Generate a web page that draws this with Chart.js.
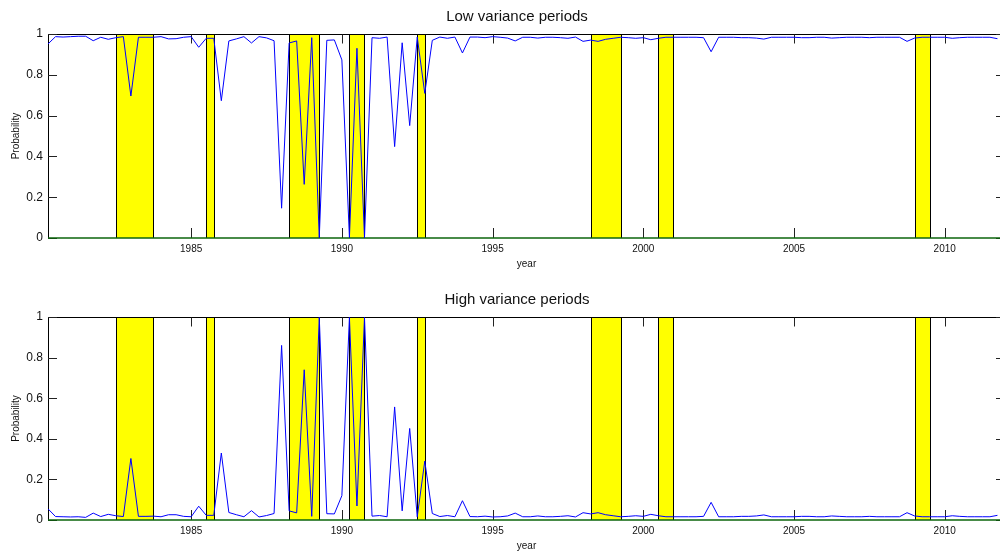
<!DOCTYPE html>
<html>
<head>
<meta charset="utf-8">
<script src="https://cdn.jsdelivr.net/npm/chart.js@4/dist/chart.umd.min.js"></script>
<style>
  html, body { margin: 0; padding: 0; background: #fff; }
  #wrap { position: relative; width: 1000px; height: 557px; overflow: hidden; }
  .box { position: absolute; left: 0; width: 1034px; }
</style>
</head>
<body>
<div id="wrap">
  <div class="box" style="top:0;height:280px"><canvas id="low-chart"></canvas></div>
  <div class="box" style="top:283px;height:274px"><canvas id="high-chart"></canvas></div>
</div>
<script>
// quarterly observations, 1980Q2 .. 2011Q4
const quarters = [
  1980.25, 1980.5, 1980.75,
  1981, 1981.25, 1981.5, 1981.75, 1982, 1982.25, 1982.5, 1982.75,
  1983, 1983.25, 1983.5, 1983.75, 1984, 1984.25, 1984.5, 1984.75,
  1985, 1985.25, 1985.5, 1985.75, 1986, 1986.25, 1986.5, 1986.75,
  1987, 1987.25, 1987.5, 1987.75, 1988, 1988.25, 1988.5, 1988.75,
  1989, 1989.25, 1989.5, 1989.75, 1990, 1990.25, 1990.5, 1990.75,
  1991, 1991.25, 1991.5, 1991.75, 1992, 1992.25, 1992.5, 1992.75,
  1993, 1993.25, 1993.5, 1993.75, 1994, 1994.25, 1994.5, 1994.75,
  1995, 1995.25, 1995.5, 1995.75, 1996, 1996.25, 1996.5, 1996.75,
  1997, 1997.25, 1997.5, 1997.75, 1998, 1998.25, 1998.5, 1998.75,
  1999, 1999.25, 1999.5, 1999.75, 2000, 2000.25, 2000.5, 2000.75,
  2001, 2001.25, 2001.5, 2001.75, 2002, 2002.25, 2002.5, 2002.75,
  2003, 2003.25, 2003.5, 2003.75, 2004, 2004.25, 2004.5, 2004.75,
  2005, 2005.25, 2005.5, 2005.75, 2006, 2006.25, 2006.5, 2006.75,
  2007, 2007.25, 2007.5, 2007.75, 2008, 2008.25, 2008.5, 2008.75,
  2009, 2009.25, 2009.5, 2009.75, 2010, 2010.25, 2010.5, 2010.75,
  2011, 2011.25, 2011.5, 2011.75
];

const lowVar = [
  0.951, 0.987, 0.985,
  0.987, 0.989, 0.989, 0.967, 0.984, 0.974, 0.982, 0.987,
  0.696, 0.984, 0.984, 0.984, 0.987, 0.976, 0.977, 0.984,
  0.987, 0.935, 0.979, 0.979, 0.673, 0.966, 0.976, 0.987,
  0.956, 0.987, 0.981, 0.967, 0.146, 0.956, 0.966, 0.263,
  0.982, 0.002, 0.969, 0.971, 0.873, 0.003, 0.930, 0.002,
  0.982, 0.979, 0.985, 0.448, 0.957, 0.551, 0.985, 0.709,
  0.969, 0.985, 0.979, 0.985, 0.907, 0.985, 0.985, 0.982,
  0.987, 0.984, 0.980, 0.966, 0.984, 0.984, 0.980, 0.984,
  0.984, 0.982, 0.979, 0.985, 0.964, 0.970, 0.964, 0.974,
  0.979, 0.984, 0.982, 0.979, 0.982, 0.972, 0.979, 0.984,
  0.984, 0.984, 0.984, 0.984, 0.982, 0.913, 0.984, 0.984,
  0.984, 0.982, 0.982, 0.980, 0.975, 0.984, 0.984, 0.984,
  0.984, 0.982, 0.982, 0.984, 0.984, 0.980, 0.982, 0.984,
  0.984, 0.984, 0.982, 0.984, 0.984, 0.984, 0.984, 0.964,
  0.980, 0.984, 0.984, 0.984, 0.984, 0.979, 0.982, 0.984,
  0.984, 0.984, 0.984, 0.977
];

const highVar = [
  0.055, 0.017, 0.016,
  0.015, 0.016, 0.013, 0.034, 0.017, 0.028, 0.021, 0.017,
  0.303, 0.018, 0.018, 0.019, 0.016, 0.026, 0.026, 0.018,
  0.016, 0.068, 0.023, 0.023, 0.330, 0.037, 0.026, 0.016,
  0.046, 0.015, 0.022, 0.032, 0.860, 0.045, 0.035, 0.740,
  0.018, 0.998, 0.031, 0.030, 0.120, 0.998, 0.069, 0.998,
  0.019, 0.022, 0.016, 0.557, 0.045, 0.451, 0.016, 0.290,
  0.032, 0.017, 0.022, 0.016, 0.095, 0.017, 0.016, 0.019,
  0.015, 0.016, 0.020, 0.034, 0.016, 0.016, 0.020, 0.016,
  0.016, 0.018, 0.021, 0.015, 0.036, 0.030, 0.036, 0.026,
  0.021, 0.016, 0.018, 0.021, 0.018, 0.028, 0.021, 0.016,
  0.016, 0.016, 0.016, 0.016, 0.018, 0.087, 0.016, 0.016,
  0.016, 0.018, 0.018, 0.020, 0.025, 0.016, 0.016, 0.016,
  0.016, 0.018, 0.018, 0.016, 0.016, 0.020, 0.018, 0.016,
  0.016, 0.016, 0.018, 0.016, 0.016, 0.016, 0.016, 0.036,
  0.020, 0.016, 0.016, 0.016, 0.016, 0.021, 0.018, 0.016,
  0.016, 0.016, 0.016, 0.023
];

// shaded periods (start, end)
const shadeStart = [1982.5, 1985.5, 1988.25, 1990.25, 1992.5, 1998.25, 2000.5, 2009.0];
const shadeEnd   = [1983.75, 1985.75, 1989.25, 1990.75, 1992.75, 1999.25, 2001.0, 2009.5];

const xTicks = [1985, 1990, 1995, 2000, 2005, 2010];
const yTicks = [0, 0.2, 0.4, 0.6, 0.8, 1];

const FONT = "'Liberation Sans', Arial, Helvetica, sans-serif";
const snap = (v) => Math.round(v) + 0.5;

const shadePlugin = {
  id: 'shade',
  beforeDatasetsDraw(chart) {
    const { ctx, chartArea: a, scales: { x, y } } = chart;
    const top = snap(y.getPixelForValue(1));
    const bottom = y.getPixelForValue(0);
    ctx.save();
    ctx.lineWidth = 1;
    for (let i = 0; i < shadeStart.length; i++) {
      const x0 = snap(x.getPixelForValue(shadeStart[i]));
      const x1 = snap(x.getPixelForValue(shadeEnd[i]));
      ctx.fillStyle = '#ffff00';
      ctx.fillRect(x0, top, x1 - x0, bottom - top);
      ctx.strokeStyle = '#000';
      ctx.beginPath();
      ctx.moveTo(x0, top); ctx.lineTo(x0, bottom);
      ctx.moveTo(x1, top); ctx.lineTo(x1, bottom);
      ctx.stroke();
    }
    // axes box
    ctx.strokeStyle = '#000';
    ctx.beginPath();
    ctx.moveTo(snap(a.left), bottom); ctx.lineTo(snap(a.left), top);
    ctx.lineTo(snap(a.right), top); ctx.lineTo(snap(a.right), bottom);
    ctx.stroke();
    // inward ticks
    ctx.strokeStyle = '#222';
    ctx.beginPath();
    yTicks.forEach(v => {
      const py = snap(y.getPixelForValue(v));
      ctx.moveTo(a.left, py); ctx.lineTo(a.left + 9, py);
      ctx.moveTo(a.right, py); ctx.lineTo(a.right - 9, py);
    });
    xTicks.forEach(v => {
      const px = snap(x.getPixelForValue(v));
      ctx.moveTo(px, bottom); ctx.lineTo(px, bottom - 10);
      ctx.moveTo(px, top); ctx.lineTo(px, top + 9);
    });
    ctx.stroke();
    // zero line
    ctx.strokeStyle = '#0b640b';
    ctx.lineWidth = 1.6;
    ctx.beginPath();
    ctx.moveTo(a.left, bottom); ctx.lineTo(a.right, bottom);
    ctx.stroke();
    ctx.restore();
  }
};

const makeChart = (id, title, values, axisHeight, yearPad) => {
  new Chart(id, {
    type: 'line',
    data: {
      datasets: [{
        data: quarters.map((q, i) => ({ x: q, y: values[i] })),
        borderColor: '#0000ff',
        borderWidth: 1,
        pointRadius: 0,
        tension: 0,
        fill: false
      }]
    },
    plugins: [shadePlugin],
    options: {
      animation: false,
      responsive: true,
      maintainAspectRatio: false,
      layout: { padding: 0 },
      plugins: {
        legend: { display: false },
        tooltip: { enabled: false },
        title: {
          display: true,
          text: title,
          color: '#111',
          font: { family: FONT, size: 15, weight: 'normal' },
          padding: { top: 8, bottom: 8 }
        }
      },
      scales: {
        x: {
          type: 'linear',
          min: 1980.25,
          max: 2012,
          afterBuildTicks: (s) => { s.ticks = xTicks.map(v => ({ value: v })); },
          afterFit: (s) => { s.height = axisHeight; },
          grid: { display: false, drawTicks: false },
          border: { display: false },
          ticks: {
            padding: 5,
            maxRotation: 0,
            autoSkip: false,
            color: '#111',
            font: { family: FONT, size: 10 },
            callback: (v) => String(v)
          },
          title: {
            display: true,
            text: 'year',
            color: '#111',
            font: { family: FONT, size: 10 },
            padding: { top: 0, bottom: yearPad }
          }
        },
        y: {
          min: 0,
          max: 1,
          afterBuildTicks: (s) => { s.ticks = yTicks.map(v => ({ value: v })); },
          afterFit: (s) => { s.width = 48; },
          grid: { display: false, drawTicks: false },
          border: { display: false },
          ticks: {
            padding: 5,
            color: '#111',
            font: { family: FONT, size: 12 },
            callback: (v) => String(Math.round(v * 10) / 10)
          },
          title: {
            display: true,
            text: 'Probability',
            color: '#111',
            font: { family: FONT, size: 10 },
            padding: { top: 10, bottom: 0 }
          }
        },
        y1: {
          position: 'right',
          min: 0,
          max: 1,
          afterFit: (s) => { s.width = 29; },
          grid: { display: false, drawTicks: false },
          border: { display: false },
          ticks: { display: false }
        }
      }
    }
  });
};

makeChart('low-chart', 'Low variance periods', lowVar, 42, 10);
makeChart('high-chart', 'High variance periods', highVar, 37, 5);
</script>
</body>
</html>
